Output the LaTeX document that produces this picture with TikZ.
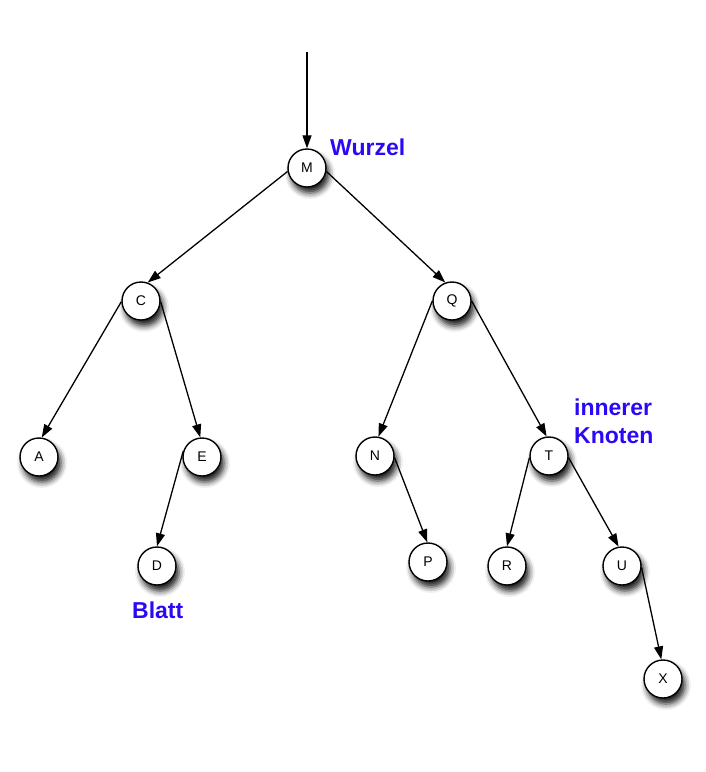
\documentclass[tikz,border=0pt]{standalone}
\usepackage{fontspec}
\setmainfont{Liberation Sans}
\usetikzlibrary{%
  arrows.meta,%
  shadows.blur,% wg. Schatten
  positioning%
}
\definecolor{tagblue}{RGB}{42,10,245}

\begin{document}
\begin{tikzpicture}[
  x=1pt, y=-1pt, >={Triangle[length=13pt, width=9pt]},
  treenode/.style={circle, minimum size=38pt, inner sep=0pt, draw=black, line width=1.4pt, fill=white,
    font=\fontsize{14}{16}\selectfont,
    blur shadow={shadow xshift=3pt, shadow yshift=-6pt, shadow blur radius=6pt, shadow opacity=90}},
  edge/.style={->, line width=1.3pt},
  tag/.style={text=tagblue, font=\fontsize{23}{28}\selectfont\bfseries, inner sep=0pt, align=left}
]
\useasboundingbox (0,0) rectangle (706,772);

\node[treenode] (kM) at (307,168) {M};
\node[treenode] (kC) at (141,301) {C};
\node[treenode] (kQ) at (452,301) {Q};
\node[treenode] (kA) at (39,457) {A};
\node[treenode] (kE) at (202,457) {E};
\node[treenode] (kN) at (375,456) {N};
\node[treenode] (kT) at (549,456) {T};
\node[treenode] (kD) at (157,566) {D};
\node[treenode] (kP) at (428,562) {P};
\node[treenode] (kR) at (507,566) {R};
\node[treenode] (kU) at (622,566) {U};
\node[treenode] (kX) at (663,679) {X};

\coordinate (start) at (307,52);
\draw[edge] (start) -- (kM.north);
\draw[edge] (kM.190) -- (kC.70);
\draw[edge] (kM.350) -- (kQ.110);
\draw[edge] (kC.182) -- (kA.82);
\draw[edge] (kC.358) -- (kE.95);
\draw[edge] (kE.162) -- (kD.90);
\draw[edge] (kQ.180) -- (kN.80);
\draw[edge] (kQ.0) -- (kT.97);
\draw[edge] (kN.355) -- (kP.92);
\draw[edge] (kT.185) -- (kR.90);
\draw[edge] (kT.355) -- (kU.100);
\draw[edge] (kU.355) -- (kX.95);

\node[tag, anchor=base west] (lWurzel) at (330,155) {Wurzel};
\node[tag, anchor=base west] (lInner) at (574,443) {innerer\\Knoten};
\node[tag, anchor=base west] (lBlatt) at (132,618) {Blatt};
\end{tikzpicture}
\end{document}
